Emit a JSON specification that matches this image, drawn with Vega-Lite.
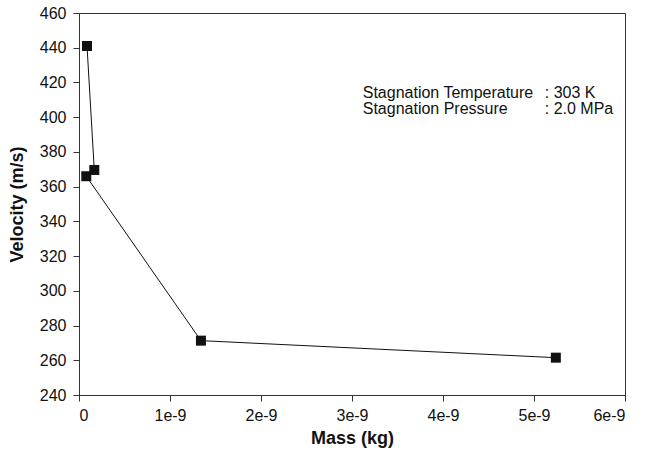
{
  "$schema": "https://vega.github.io/schema/vega-lite/v6.json",
  "autosize": "none",
  "width": 546,
  "height": 382,
  "padding": {"left": 79, "top": 13, "right": 21, "bottom": 59},
  "background": "white",
  "config": {
    "font": "Liberation Sans",
    "view": {"stroke": "#333", "strokeWidth": 1},
    "axis": {
      "domainColor": "#333",
      "tickColor": "#333",
      "grid": false,
      "labelFontSize": 16,
      "labelColor": "#111",
      "titleFontSize": 18,
      "titleFontWeight": "bold",
      "titleColor": "#111",
      "tickSize": 6
    }
  },
  "datasets": {
    "pts": [
      {"order": 1, "mass": 0.088e-9, "velocity": 441},
      {"order": 2, "mass": 0.168e-9, "velocity": 369.6},
      {"order": 3, "mass": 0.08e-9, "velocity": 366},
      {"order": 4, "mass": 1.34e-9, "velocity": 271.3},
      {"order": 5, "mass": 5.24e-9, "velocity": 261.5}
    ],
    "notes": [
      {"mass": 3.118e-9, "velocity": 411.2, "label": "Stagnation Temperature", "value": ": 303 K"},
      {"mass": 3.118e-9, "velocity": 402.0, "label": "Stagnation Pressure", "value": ": 2.0 MPa"}
    ]
  },
  "encoding": {
    "x": {
      "field": "mass", "type": "quantitative",
      "scale": {"domain": [0, 6e-9], "nice": false, "zero": false},
      "axis": {
        "title": "Mass (kg)",
        "values": [0, 1e-9, 2e-9, 3e-9, 4e-9, 5e-9, 6e-9],
        "labelExpr": "datum.value == 0 ? '0' : format(round(datum.value * 1e9), 'd') + 'e-9'",
        "labelOverlap": false,
        "labelPadding": 6,
        "titlePadding": 6
      }
    },
    "y": {
      "field": "velocity", "type": "quantitative",
      "scale": {"domain": [240, 460], "nice": false, "zero": false},
      "axis": {
        "title": "Velocity (m/s)",
        "values": [240, 260, 280, 300, 320, 340, 360, 380, 400, 420, 440, 460],
        "tickCount": 12,
        "labelOverlap": false,
        "labelFlush": false,
        "labelPadding": 7,
        "titlePadding": 13
      }
    }
  },
  "layer": [
    {
      "data": {"name": "pts"},
      "mark": {"type": "line", "color": "#111", "strokeWidth": 1},
      "encoding": {
        "order": {"field": "order", "type": "quantitative"}
      }
    },
    {
      "data": {"name": "pts"},
      "mark": {"type": "square", "color": "#111", "opacity": 1, "size": 100, "filled": true},
      "encoding": {}
    },
    {
      "data": {"name": "notes"},
      "mark": {"type": "text", "align": "left", "baseline": "alphabetic", "fontSize": 16, "color": "#111"},
      "encoding": {
        "text": {"field": "label"}
      }
    },
    {
      "data": {"name": "notes"},
      "mark": {"type": "text", "align": "left", "baseline": "alphabetic", "fontSize": 16, "color": "#111", "dx": 182},
      "encoding": {
        "text": {"field": "value"}
      }
    }
  ]
}
